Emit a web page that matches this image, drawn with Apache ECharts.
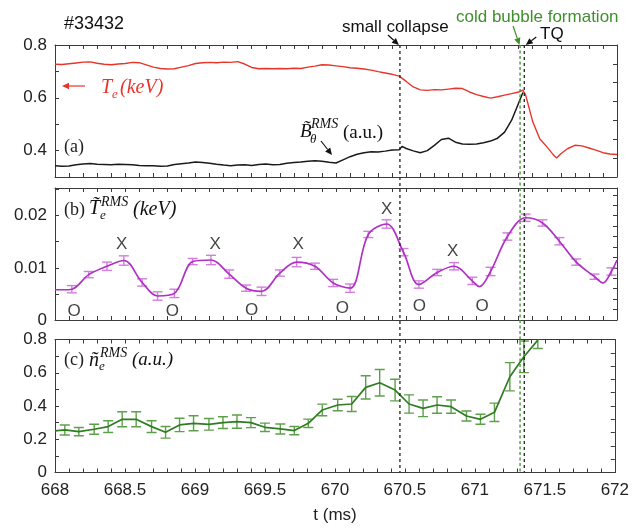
<!DOCTYPE html>
<html>
<head>
<meta charset="utf-8">
<script src="https://cdn.jsdelivr.net/npm/echarts@6/dist/echarts.min.js"></script>
<style>
  html, body { margin: 0; padding: 0; background: #fff; }
  #chart { width: 632px; height: 528px; }
</style>
</head>
<body>
<div id="chart"></div>
<script>
// ---- Panel (a): core electron temperature and magnetic fluctuation level ----
const teTime = [668.00,668.05,668.10,668.15,668.20,668.25,668.30,668.35,668.40,668.45,668.50,668.55,668.60,668.65,668.70,668.75,668.80,668.85,668.90,668.95,
  669.00,669.05,669.10,669.15,669.20,669.25,669.30,669.35,669.40,669.45,669.50,669.55,669.60,669.65,669.70,669.75,669.80,669.85,669.90,669.95,
  670.00,670.05,670.10,670.15,670.20,670.25,670.30,670.35,670.40,670.45,670.50,670.55,670.60,670.65,670.70,670.75,670.80,670.85,670.90,670.95,
  671.00,671.05,671.10,671.15,671.20,671.25,671.30,671.33,671.35,671.40,671.45,671.50,671.55,671.57,671.60,671.65,671.70,671.75,671.80,671.85,671.90,671.95,672.00];
const teValue = [0.727,0.726,0.729,0.732,0.735,0.736,0.731,0.727,0.725,0.728,0.730,0.734,0.733,0.725,0.716,0.711,0.709,0.710,0.716,0.722,
  0.730,0.733,0.734,0.733,0.735,0.734,0.737,0.728,0.715,0.710,0.711,0.710,0.711,0.710,0.712,0.711,0.716,0.720,0.725,0.724,
  0.721,0.718,0.714,0.712,0.709,0.705,0.699,0.694,0.689,0.682,0.662,0.641,0.630,0.628,0.631,0.630,0.633,0.636,0.635,0.622,
  0.612,0.605,0.599,0.604,0.610,0.616,0.622,0.629,0.610,0.510,0.445,0.415,0.382,0.372,0.388,0.408,0.420,0.418,0.410,0.402,0.392,0.387,0.385];

const bTime = [668.00,668.05,668.10,668.15,668.20,668.25,668.30,668.35,668.40,668.45,668.50,668.55,668.60,668.65,668.70,668.75,668.80,668.85,668.90,668.95,
  669.00,669.05,669.10,669.15,669.20,669.25,669.30,669.35,669.40,669.45,669.50,669.55,669.60,669.65,669.70,669.75,669.80,669.85,669.90,669.95,
  670.00,670.05,670.10,670.15,670.20,670.25,670.30,670.35,670.40,670.45,670.47,670.50,670.55,670.60,670.65,670.70,670.75,670.80,670.85,670.90,670.95,
  671.00,671.05,671.10,671.15,671.20,671.25,671.30,671.33];
const bValue = [0.343,0.341,0.342,0.346,0.349,0.351,0.348,0.347,0.346,0.348,0.347,0.346,0.344,0.343,0.343,0.341,0.342,0.347,0.350,0.353,
  0.357,0.355,0.352,0.348,0.345,0.343,0.345,0.346,0.344,0.347,0.349,0.346,0.347,0.352,0.355,0.357,0.360,0.362,0.360,0.356,
  0.353,0.365,0.377,0.386,0.392,0.396,0.395,0.398,0.402,0.403,0.416,0.408,0.399,0.392,0.400,0.420,0.442,0.447,0.432,0.425,0.424,
  0.425,0.430,0.436,0.447,0.470,0.515,0.580,0.620];

// ---- Panel (b): Te fluctuation RMS with error bars ----
const tbTime  = [668.12,668.24,668.37,668.49,668.62,668.73,668.85,668.98,669.11,669.24,669.36,669.47,669.60,669.72,669.85,669.98,
  670.10,670.23,670.36,670.48,670.59,670.72,670.84,670.97,671.10,671.22,671.35,671.47,671.59,671.71,671.84,671.96];
const tbValue = [0.0059,0.0087,0.0103,0.0114,0.0072,0.0046,0.0051,0.0112,0.0115,0.0088,0.0061,0.0055,0.0090,0.0111,0.0103,0.0071,
  0.0061,0.0164,0.0184,0.0130,0.0068,0.0091,0.0103,0.0075,0.0093,0.0160,0.0196,0.0186,0.0151,0.0111,0.0083,0.0093];
const tbError = [0.0007,0.0006,0.0008,0.0009,0.0007,0.0008,0.0008,0.0006,0.0009,0.0008,0.0006,0.0008,0.0006,0.0009,0.0006,0.0007,
  0.0008,0.0006,0.0008,0.0007,0.0007,0.0006,0.0007,0.0007,0.0008,0.0007,0.0007,0.0006,0.0007,0.0006,0.0005,0.0007];
// extra samples of the smoothed trace between the error-bar points
const tbTraceTime  = [668.00,668.06,671.02,671.90,672.00];
const tbTraceValue = [0.0058,0.0058,0.0064,0.0071,0.0115];

// X (island) / O (separatrix) markers
const markTime  = [668.475,669.14,669.73,670.36,670.83,668.136,668.836,669.40,670.046,670.594,671.04];
const markValue = [0.0146,0.0146,0.0146,0.0212,0.0131,0.0016,0.0016,0.0019,0.0022,0.0027,0.0027];
const markText  = ['X','X','X','X','X','O','O','O','O','O','O'];

// ---- Panel (c): density fluctuation RMS with error bars ----
const ncTime  = [668.07,668.17,668.28,668.38,668.48,668.58,668.69,668.79,668.89,668.99,669.10,669.20,669.30,669.40,669.50,669.61,669.71,669.81,669.91,
  670.02,670.12,670.22,670.32,670.43,670.53,670.63,670.73,670.83,670.94,671.04,671.14,671.25,671.35,671.45];
const ncValue = [0.256,0.246,0.260,0.276,0.320,0.320,0.276,0.242,0.286,0.296,0.290,0.300,0.306,0.300,0.272,0.262,0.252,0.296,0.376,
  0.406,0.412,0.512,0.540,0.496,0.412,0.386,0.406,0.396,0.340,0.320,0.362,0.576,0.696,0.796];
const ncError = [0.030,0.025,0.030,0.035,0.045,0.045,0.035,0.035,0.040,0.045,0.035,0.035,0.040,0.030,0.025,0.030,0.025,0.025,0.035,
  0.035,0.045,0.070,0.080,0.065,0.055,0.050,0.050,0.040,0.030,0.030,0.055,0.085,0.095,0.050];
const ncStartTime = 668.00, ncStartValue = 0.250;

// event times
const collapseTime = 670.455;
const bubbleTime = 671.31;
const tqTime = 671.34;

const xTickLabels = ['668','668.5','669','669.5','670','670.5','671','671.5','672'];

// ------------------------------------------------------------------------
const SANS = '"Liberation Sans", Arial, sans-serif';
const SERIF = '"Liberation Serif", "Times New Roman", serif';
const AXIS_COLOR = '#3a3a3a';
const RED = '#e8352b', PURPLE = '#b02fc4', PURPLE_LIGHT = '#d27ede', GREEN = '#2f7d22', GREEN_LIGHT = '#5e9f4c', BUBBLE_GREEN = '#3f8f2c';

const zip = (a, b) => a.map((v, i) => [v, b[i]]);

function xAxisPair(grid, withLabels) {
  const common = {
    type: 'value', gridIndex: grid, min: 668, max: 672, interval: 0.5,
    axisLine: { show: true, onZero: false, lineStyle: { color: AXIS_COLOR, width: 1 } },
    axisTick: { show: true, inside: true, length: 4, lineStyle: { color: AXIS_COLOR } },
    minorTick: { show: true, splitNumber: 5, length: 4, lineStyle: { color: AXIS_COLOR } },
    splitLine: { show: false }, minorSplitLine: { show: false }
  };
  return [
    Object.assign({}, common, {
      position: 'bottom',
      axisLabel: withLabels ? {
        show: true, margin: 9, fontSize: 17, fontFamily: SANS, color: '#222',
        formatter: v => {
          const k = Math.round((v - 668) / 0.5);
          return Math.abs(v - (668 + k * 0.5)) < 1e-6 ? xTickLabels[k] : '';
        }
      } : { show: false }
    }),
    Object.assign({}, common, { position: 'top', axisLabel: { show: false } })
  ];
}

function yAxisLeft(grid, min, max, interval, labelFn) {
  return {
    type: 'value', gridIndex: grid, position: 'left', min, max, interval,
    axisLine: { show: true, lineStyle: { color: AXIS_COLOR, width: 1 } },
    axisTick: { show: true, inside: true, length: 4, lineStyle: { color: AXIS_COLOR } },
    splitLine: { show: false },
    axisLabel: { show: true, margin: 8, fontSize: 17, fontFamily: SANS, color: '#222', formatter: labelFn,
                 showMinLabel: true, showMaxLabel: true }
  };
}
function yAxisRight(grid, min, max, interval) {
  return {
    type: 'value', gridIndex: grid, position: 'right', min, max, interval,
    axisLine: { show: true, lineStyle: { color: AXIS_COLOR, width: 1 } },
    axisTick: { show: true, inside: true, length: 4, lineStyle: { color: AXIS_COLOR } },
    splitLine: { show: false }, axisLabel: { show: false }
  };
}

function errorBars(xIdx, yIdx, times, vals, errs, color) {
  return {
    type: 'custom', xAxisIndex: xIdx, yAxisIndex: yIdx, clip: true, z: 3,
    encode: { x: 0, y: [1, 2] },
    data: times.map((t, i) => [t, vals[i] - errs[i], vals[i] + errs[i]]),
    renderItem(params, api) {
      const lo = api.coord([api.value(0), api.value(1)]);
      const hi = api.coord([api.value(0), api.value(2)]);
      const w = 5;
      const style = { stroke: color, lineWidth: 1.4, fill: null };
      return {
        type: 'group',
        children: [
          { type: 'line', shape: { x1: lo[0], y1: lo[1], x2: hi[0], y2: hi[1] }, style },
          { type: 'line', shape: { x1: lo[0] - w, y1: lo[1], x2: lo[0] + w, y2: lo[1] }, style },
          { type: 'line', shape: { x1: hi[0] - w, y1: hi[1], x2: hi[0] + w, y2: hi[1] }, style }
        ]
      };
    }
  };
}

const near = (v, step) => Math.abs(v / step - Math.round(v / step)) < 1e-6;

const tbTrace = zip(tbTime.concat(tbTraceTime), tbValue.concat(tbTraceValue)).sort((a, b) => a[0] - b[0]);
const ncTrace = [[ncStartTime, ncStartValue]].concat(zip(ncTime, ncValue));

const xa = xAxisPair(0, false), xb = xAxisPair(1, false), xc = xAxisPair(2, true);

const option = {
  animation: false,
  backgroundColor: '#fff',
  grid: [
    { left: 55, top: 45, width: 562, height: 132 },
    { left: 55, top: 188, width: 562, height: 132 },
    { left: 55, top: 339.5, width: 562, height: 133 }
  ],
  xAxis: [xa[0], xa[1], xb[0], xb[1], xc[0], xc[1]],
  yAxis: [
    yAxisLeft(0, 0.3, 0.8, 0.1, v => {
      const r = Math.round(v * 10);
      return (r % 2 === 0 && r >= 4) ? (r / 10).toFixed(1) : '';
    }),
    yAxisRight(0, 0, 7, 1),
    yAxisLeft(1, 0, 0.0253, 0.005, v => {
      if (!near(v, 0.01)) return '';
      const r = Math.round(v * 100);
      return r === 0 ? '0' : (r / 100).toFixed(2);
    }),
    yAxisRight(1, 0, 0.0253, 0.002),
    yAxisLeft(2, 0, 0.8, 0.1, v => {
      const r = Math.round(v * 10);
      if (r % 2 !== 0) return '';
      return r === 0 ? '0' : (r / 10).toFixed(1);
    }),
    yAxisRight(2, 0, 0.8, 0.08)
  ],
  series: [
    { type: 'line', xAxisIndex: 0, yAxisIndex: 0, data: zip(teTime, teValue), showSymbol: false,
      lineStyle: { color: RED, width: 1.4 }, z: 2 },
    { type: 'line', xAxisIndex: 0, yAxisIndex: 0, data: zip(bTime, bValue), showSymbol: false,
      lineStyle: { color: '#1a1a1a', width: 1.5 }, z: 2 },
    errorBars(2, 2, tbTime, tbValue, tbError, PURPLE_LIGHT),
    { type: 'line', xAxisIndex: 2, yAxisIndex: 2, data: tbTrace, showSymbol: false, smooth: 0.35,
      lineStyle: { color: PURPLE, width: 1.7 }, z: 4 },
    { type: 'scatter', xAxisIndex: 2, yAxisIndex: 2, symbolSize: 0, z: 5,
      data: markTime.map((t, i) => ({ value: [t, markValue[i]], name: markText[i] })),
      label: { show: true, position: 'inside', formatter: p => p.name, fontSize: 17, fontFamily: SANS, color: '#111' } },
    errorBars(4, 4, ncTime, ncValue, ncError, GREEN_LIGHT),
    { type: 'line', xAxisIndex: 4, yAxisIndex: 4, data: ncTrace, showSymbol: false,
      lineStyle: { color: GREEN, width: 1.7 }, z: 4 }
  ]
};

const chart = echarts.init(document.getElementById('chart'), null, { renderer: 'canvas' });
chart.setOption(option);

// ---- annotations: event lines, arrows and math labels ----
const px = t => chart.convertToPixel({ xAxisIndex: 0 }, t);
const yTop = chart.convertToPixel({ yAxisIndex: 0 }, 0.8);
const yBottom = chart.convertToPixel({ yAxisIndex: 4 }, 0);

function vline(x, color, dash) {
  return { type: 'line', z: 50, shape: { x1: x, y1: yTop, x2: x, y2: yBottom },
           style: { stroke: color, lineWidth: 1.3, lineDash: dash } };
}
function arrow(x1, y1, x2, y2, color) {
  const ang = Math.atan2(y2 - y1, x2 - x1);
  const L = 7, W = 3.2;
  const bx = x2 - L * Math.cos(ang), by = y2 - L * Math.sin(ang);
  const nx = -Math.sin(ang) * W, ny = Math.cos(ang) * W;
  return [
    { type: 'line', z: 60, shape: { x1, y1, x2: bx, y2: by }, style: { stroke: color, lineWidth: 1.2 } },
    { type: 'polygon', z: 60, shape: { points: [[x2, y2], [bx + nx, by + ny], [bx - nx, by - ny]] },
      style: { fill: color, stroke: null } }
  ];
}
function txt(x, y, text, font, color, align) {
  return { type: 'text', z: 70, x, y,
           style: { text, font, fill: color || '#111', textAlign: align || 'left', textVerticalAlign: 'middle',
                    align: align || 'left', verticalAlign: 'middle' } };
}

const xc0 = px(collapseTime), xb0 = px(bubbleTime), xq0 = px(tqTime);

const graphics = [
  vline(xc0, '#222', [3, 3]),
  vline(xb0, BUBBLE_GREEN, [3, 2.5]),
  vline(xq0, '#222', [3, 3]),
  ...arrow(xc0 - 12, 35, xc0 - 1, 45, '#111'),
  ...arrow(xb0 - 7, 26, xb0 - 0.5, 45, BUBBLE_GREEN),
  ...arrow(xq0 + 12, 37, xq0 + 1.5, 45, '#111'),
  ...arrow(85, 86, 62, 86, RED),
  ...arrow(321, 141, 332, 155, '#111'),

  txt(64, 24, '#33432', '18px ' + SANS, '#111'),
  txt(342, 27, 'small collapse', '17px ' + SANS, '#111'),
  txt(456, 17, 'cold bubble formation', '17px ' + SANS, BUBBLE_GREEN),
  txt(540, 34, 'TQ', '17px ' + SANS, '#111'),
  txt(335, 515, 't (ms)', '17px ' + SANS, '#222', 'center'),

  // panel (a)
  txt(101, 88, 'T', 'italic 20px ' + SERIF, RED),
  txt(112, 95, 'e', 'italic 13px ' + SERIF, RED),
  txt(120, 88, '(keV)', 'italic 20px ' + SERIF, RED),
  txt(64, 147, '(a)', '18px ' + SERIF, '#222'),
  txt(300, 132, 'B\u0303', 'italic 19px ' + SERIF, '#111'),
  txt(311, 124, 'RMS', 'italic 14px ' + SERIF, '#111'),
  txt(310, 140, '\u03b8', 'italic 13px ' + SERIF, '#111'),
  txt(343, 133, '(a.u.)', '19px ' + SERIF, '#111'),

  // panel (b)
  txt(64, 210, '(b)', '18px ' + SERIF, '#222'),
  txt(89, 209, 'T\u0303', 'italic 20px ' + SERIF, '#111'),
  txt(101, 202, 'RMS', 'italic 14px ' + SERIF, '#111'),
  txt(100, 216, 'e', 'italic 13px ' + SERIF, '#111'),
  txt(133, 210, '(keV)', 'italic 20px ' + SERIF, '#111'),

  // panel (c)
  txt(64, 360, '(c)', '18px ' + SERIF, '#222'),
  txt(89, 361, 'n\u0303', 'italic 20px ' + SERIF, '#111'),
  txt(100, 353, 'RMS', 'italic 14px ' + SERIF, '#111'),
  txt(99, 367, 'e', 'italic 13px ' + SERIF, '#111'),
  txt(132, 360, '(a.u.)', 'italic 19px ' + SERIF, '#111')
];

chart.setOption({ graphic: graphics });
</script>
</body>
</html>
